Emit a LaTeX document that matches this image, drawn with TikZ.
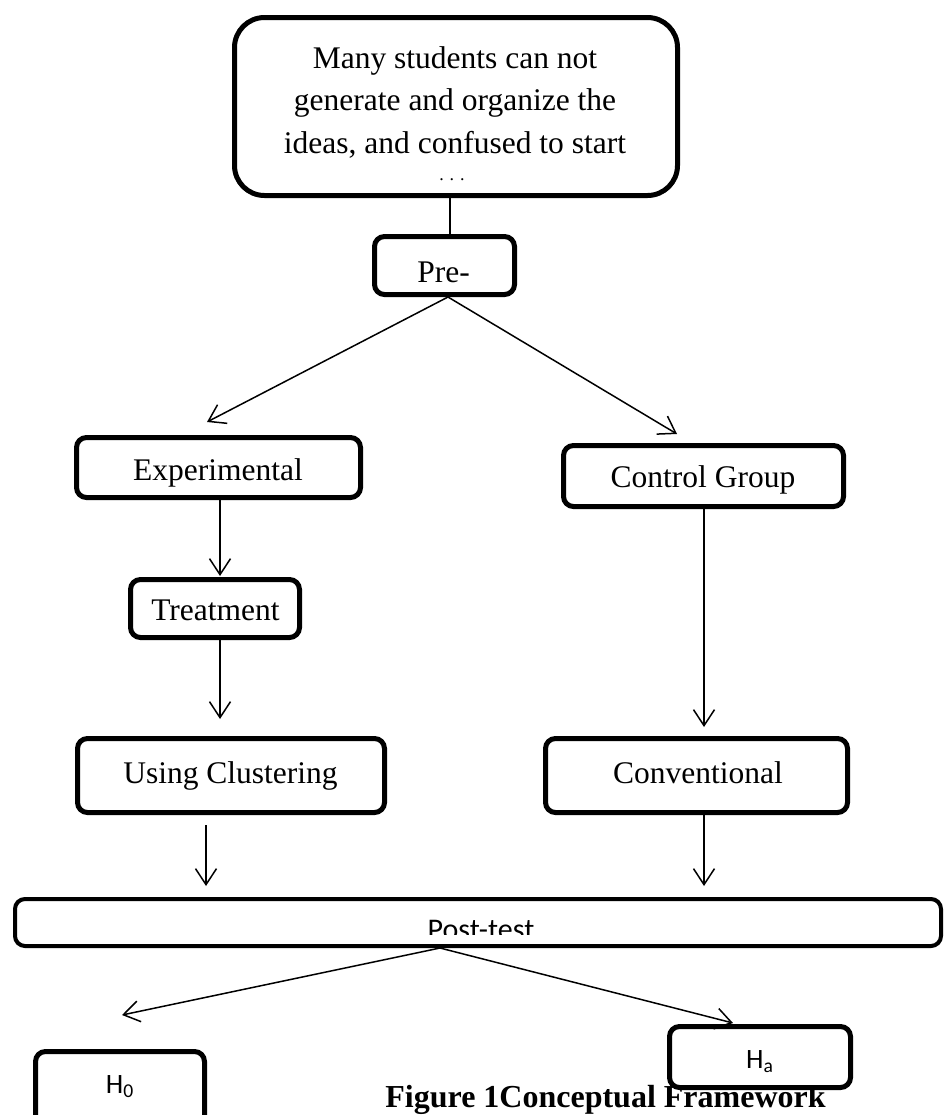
\documentclass[tikz,border=0pt]{standalone}
\usepackage{fontspec}
\setmainfont{Liberation Serif}
\newfontfamily\calib{Carlito}
\usetikzlibrary{arrows.meta}
\tikzset{
  box/.style={draw, line width=2.5pt, rounded corners=5pt, fill=white, inner sep=0pt},
  txt/.style={inner sep=0pt, anchor=base, font=\fontsize{15.75pt}{19pt}\selectfont},
  htxt/.style={inner sep=0pt, anchor=base, font=\calib\fontsize{14pt}{17pt}\selectfont},
  conn/.style={line width=0.75pt},
  arr/.style={conn, -{Straight Barb[length=8pt,width=10.5pt]}}
}
\begin{document}
\begin{tikzpicture}[x=0.5pt,y=-0.5pt]
\clip (0,0) rectangle (944,1115);
\fill[white] (0,0) rectangle (944,1115);

% boxes
\node[box, rounded corners=15pt, minimum width=221.5pt, minimum height=89pt] (prob) at (456,106.5) {};
\node[box, minimum width=70pt, minimum height=29pt] (pre) at (444.5,265.5) {};
\node[box, minimum width=142pt, minimum height=30pt] (exp) at (218.5,467.5) {};
\node[box, minimum width=84.5pt, minimum height=29pt] (treat) at (215,608.5) {};
\node[box, minimum width=140pt, minimum height=30.5pt] (ctrl) at (703.5,476) {};
\node[box, minimum width=153.5pt, minimum height=37pt] (using) at (231,775.5) {};
\node[box, minimum width=151pt, minimum height=37pt] (conv) at (696.5,775.5) {};
\node[box, line width=2pt, minimum width=463pt, minimum height=23.5pt] (post) at (478,922.5) {};
\node[box, minimum width=84.5pt, minimum height=37.5pt] (h0) at (120,1089) {};

% caption (drawn under the Ha box)
\node[inner sep=0pt, anchor=base west, font=\bfseries\fontsize{16pt}{19pt}\selectfont] (cap) at (385,1107) {Figure 1Conceptual Framework};
\node[box, minimum width=90.5pt, minimum height=30.5pt] (ha) at (760,1057) {};

% texts
\node[txt] (l1) at (455,68) {Many students can not};
\node[txt] (l2) at (455,110) {generate and organize the};
\node[txt] (l3) at (455,153) {ideas, and confused to start};
\node[inner sep=0pt, anchor=base, font=\fontsize{9pt}{9pt}\selectfont] (l4) at (452,180) {. . .};
\node[txt] (tpre) at (443.5,282) {Pre-};
\node[txt] (texp) at (218,480) {Experimental};
\node[txt] (ttreat) at (215.5,620) {Treatment};
\node[txt] (tctrl) at (703,487) {Control Group};
\node[txt] (tusing) at (230.5,783) {Using Clustering};
\node[txt] (tconv) at (698,783) {Conventional};
\begin{scope}
\clip (13,897) rectangle (943,934);
\node[inner sep=0pt, anchor=base, font=\calib\fontsize{15pt}{18pt}\selectfont] (tpost) at (481,939) {Post-test};
\end{scope}
\node[htxt] (th0) at (120,1093) {H\textsubscript{0}};
\node[htxt] (tha) at (760,1068) {H\textsubscript{a}};

% arrow tips (free ends)
\coordinate (tipE) at (207,422);
\coordinate (tipC) at (677,434);
\coordinate (tipT) at (220,576);
\coordinate (tipU) at (220,719);
\coordinate (tipV) at (704,727);
\coordinate (sU) at (206,825);
\coordinate (tipPU) at (206,886);
\coordinate (tipPV) at (704,886);
\coordinate (tip0) at (122,1015);
\coordinate (tipA) at (733,1023);

% connectors
\draw[conn] ([xshift=2.75pt]prob.south -| pre.north) -- ([xshift=2.75pt]pre.north);
\draw[arr] ([xshift=1.75pt]pre.south) -- (tipE);
\draw[arr] ([xshift=1.75pt]pre.south) -- (tipC);
\draw[arr] (exp.south -| tipT) -- (tipT);
\draw[arr] (treat.south -| tipU) -- (tipU);
\draw[arr] (ctrl.south -| tipV) -- (tipV);
\draw[arr] (sU) -- (tipPU);
\draw[arr] (conv.south -| tipPV) -- (tipPV);
\draw[arr] ([xshift=-19pt]post.south) -- (tip0);
\draw[arr] ([xshift=-19pt]post.south) -- (tipA);
\end{tikzpicture}
\end{document}
